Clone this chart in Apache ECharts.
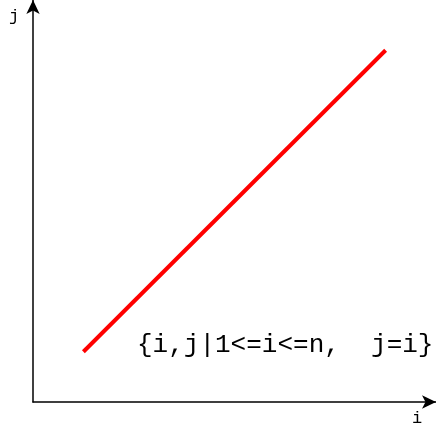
<!DOCTYPE html>
<html>
<head>
<meta charset="utf-8">
<script src="https://cdn.jsdelivr.net/npm/echarts@6/dist/echarts.min.js"></script>
<style>
  html, body { margin: 0; padding: 0; background: #fff; }
  #chart { width: 436px; height: 433px; }
</style>
</head>
<body>
<div id="chart"></div>
<script>
// Diagonal index set: j equals i for i from 1 to n
const iValues = [1, 7];
const jValues = [1, 7];
const setLabel = '{i,j|1<=i<=n,  j=i}';
const xName = 'i';
const yName = 'j';

const mono = "'Liberation Mono', 'DejaVu Sans Mono', monospace";

const chart = echarts.init(document.getElementById('chart'));

const axisCommon = {
  type: 'value',
  min: 0,
  max: 8,
  axisLine: {
    show: true,
    symbol: ['none', 'arrow'],
    symbolSize: [10, 14],
    lineStyle: { color: '#000', width: 1.5 }
  },
  axisTick: { show: false },
  axisLabel: { show: false },
  splitLine: { show: false }
};

chart.setOption({
  animation: false,
  grid: { left: 33, right: 0, top: 0, bottom: 31 },
  xAxis: Object.assign({}, axisCommon),
  yAxis: Object.assign({}, axisCommon),
  series: [{
    type: 'line',
    data: iValues.map((v, k) => [v, jValues[k]]),
    showSymbol: false,
    lineStyle: { color: '#ff0000', width: 4 }
  }],
  graphic: [
    {
      type: 'text', left: 137, top: 332,
      style: { text: setLabel, font: '26px ' + mono, fill: '#000' }
    },
    {
      type: 'text', left: 412, top: 410,
      style: { text: xName, font: '17px ' + mono, fill: '#000' }
    },
    {
      type: 'text', left: 9, top: 8,
      style: { text: yName, font: '17px ' + mono, fill: '#000' }
    }
  ]
});
</script>
</body>
</html>
